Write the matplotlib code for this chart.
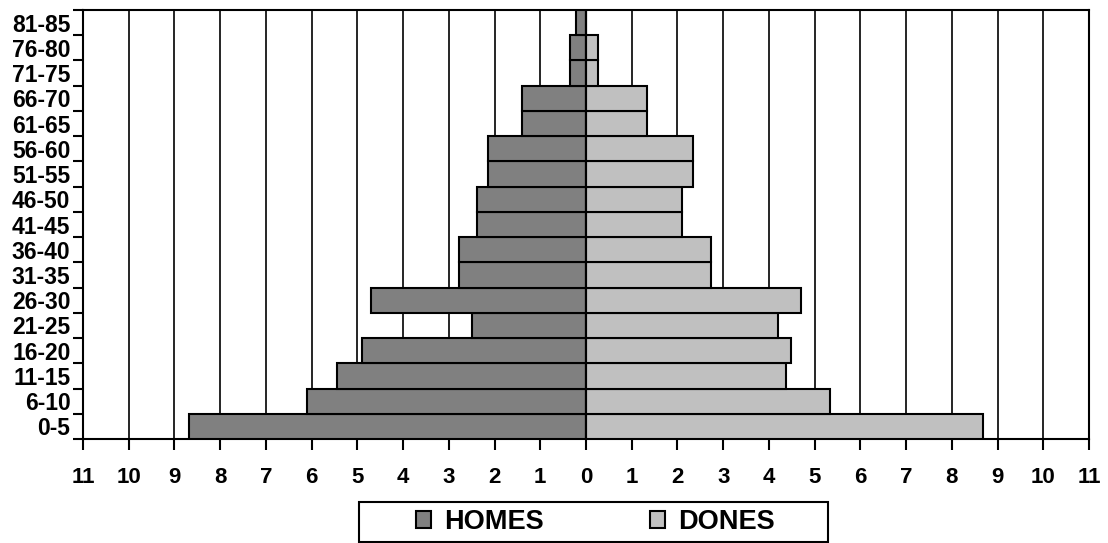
import matplotlib.pyplot as plt
from matplotlib.patches import Rectangle
import numpy as np

# age groups, bottom to top
ages = ['0-5', '6-10', '11-15', '16-20', '21-25', '26-30', '31-35', '36-40',
        '41-45', '46-50', '51-55', '56-60', '61-65', '66-70', '71-75',
        '76-80', '81-85']
homes = [8.69, 6.1, 5.45, 4.9, 2.5, 4.7, 2.78, 2.78, 2.39, 2.39, 2.14, 2.14,
         1.41, 1.41, 0.36, 0.36, 0.21]
dones = [8.67, 5.33, 4.37, 4.49, 4.19, 4.70, 2.74, 2.74, 2.09, 2.09, 2.35,
         2.35, 1.34, 1.34, 0.26, 0.26, 0.0]
xticks = list(range(-11, 12))

plt.rcParams['font.family'] = ['Liberation Sans', 'DejaVu Sans']
plt.rcParams['font.weight'] = 'bold'

fig = plt.figure(figsize=(11.08, 5.43), dpi=100)
ax = fig.add_axes([0.0749, 0.1915, 0.9080, 0.7901])

y = np.arange(len(ages))
ax.barh(y, -np.array(homes), height=1.0, color='#808080', edgecolor='black',
        linewidth=1.5, label='HOMES', zorder=3)
ax.barh(y, dones, height=1.0, color='#c0c0c0', edgecolor='black',
        linewidth=1.5, label='DONES', zorder=3)
ax.axvline(0, color='black', linewidth=1.5, zorder=4)

ax.set_xlim(-11, 11)
ax.set_ylim(-0.5, len(ages) - 0.5)
ax.set_xticks(xticks)
ax.set_xticklabels([str(abs(v)) for v in xticks], fontsize=16, fontweight='bold')
ax.grid(axis='x', color='black', linewidth=1.2, zorder=0)
ax.set_axisbelow(True)

ax.set_yticks(y)
ax.set_yticklabels(ages, fontsize=16.5, fontweight='bold')
ax.set_yticks(np.arange(-0.5, len(ages)), minor=True)
ax.tick_params(axis='y', which='major', length=0, pad=9)
ax.tick_params(axis='y', which='minor', length=7, width=1.5, direction='out')
ax.tick_params(axis='x', length=8, width=1.5, direction='out', pad=12)

for s in ax.spines.values():
    s.set_linewidth(1.5)
    s.set_color('black')

# legend box drawn separately so it can be wider than its content
fig.patches.append(Rectangle((359 / 1108, 1 / 543), 469 / 1108, 40 / 543,
                             transform=fig.transFigure, facecolor='white',
                             edgecolor='black', linewidth=1.5))
fig.legend(loc='center', bbox_to_anchor=(595.5 / 1108, 21 / 543), ncol=2,
           frameon=False, prop={'size': 19.5, 'weight': 'bold'},
           handlelength=0.55, handleheight=0.55, handletextpad=0.5,
           columnspacing=3.9, borderpad=0, borderaxespad=0)

fig.savefig('out.png', dpi=100)
